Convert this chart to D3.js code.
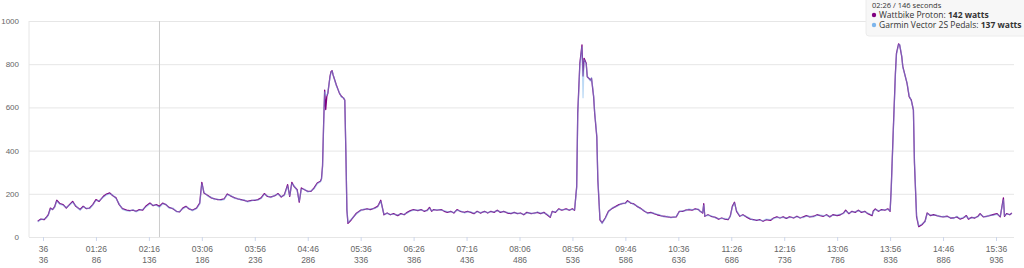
<!DOCTYPE html>
<html>
<head>
<meta charset="utf-8">
<script src="https://cdn.jsdelivr.net/npm/d3@7"></script>
<style>
  body { margin: 0; background: #fff; }
  svg { display: block; font-family: "Open Sans", sans-serif; }
</style>
</head>
<body>
<svg id="power-chart" width="1024" height="268"></svg>
<script>
// seconds into the ride, power in watts for each device
const secs = [
  31,34,37,39,41,43,45,47,49,52, 55,58,61,64,67,71,74,77,80,83,
  86,89,93,96,99,102,105,108,111,115, 118,121,124,127,130,133,137,140,143,146,
  149,152,155,159,162,165,168,171,174,177, 181,184,186,188,192,195,198,201,204,207,
  210,214,217,220,223,226,229,233,236,239, 242,245,248,251,255,258,261,264,267,269,
  271,273,276,278,280,283,286,289,292,295, 298,299,300,301,302,303,304,305,307,308,
  309,310,313,316,318,320,321,322,323,324, 327,332,336,339,342,345,349,352,353,355,
  358,361,364,367,371,374,377,380,383,386, 390,393,396,399,401,403,405,408,412,415,
  418,421,424,427,430,434,437,440,443,446, 449,453,456,459,462,465,468,471,475,478,
  481,484,487,490,493,497,500,503,506,509, 512,515,517,520,523,526,530,533,536,538,
  540,541,543,545,546,547,549,550,553,554, 556,557,559,560,562,564,567,570,574,577,
  580,583,586,588,591,594,597,600,604,607, 610,613,616,619,622,626,629,634,637,640,
  643,646,649,652,655,656,659,660,661,664, 667,671,674,677,680,683,685,687,689,691,
  694,697,701,704,707,710,713,716,719,723, 726,729,732,735,738,741,745,748,751,754,
  757,760,764,767,770,773,776,779,782,786, 789,792,794,797,800,803,806,809,812,815,
  819,820,822,825,828,831,834,836,837,839, 841,842,844,845,847,848,852,854,856,858,
  859,861,863,866,869,871,874,877,880,883, 886,890,893,896,899,902,905,908,910,913,
  916,919,921,924,927,930,933,937,940,943, 944,946,949,951
];
const wattbike = [
  73,83,80,90,103,134,127,140,170,154, 150,134,150,165,142,127,142,131,134,150,
  173,165,188,199,204,191,181,150,131,124, 122,124,119,127,124,142,157,145,150,142,
  157,150,137,130,119,116,134,142,130,124, 134,157,253,204,191,181,176,173,173,176,
  199,188,181,176,173,170,165,170,170,173, 181,201,188,185,191,201,185,196,242,188,
  253,235,219,161,227,219,211,211,227,250, 258,270,330,520,680,590,650,665,742,765,
  770,750,704,665,650,642,634,400,125,63, 79,110,124,127,130,127,134,142,150,170,
  103,111,103,108,99,108,103,114,122,127, 122,127,119,124,137,119,127,124,127,119,
  114,119,111,127,119,114,119,114,108,119, 111,119,111,119,114,124,114,119,111,108,
  114,108,111,103,114,108,111,114,108,114, 103,91,119,114,130,124,130,124,130,124,
  233,573,804,889,745,827,804,742,727,735, 650,573,464,264,79,65,88,119,134,142,
  150,154,157,168,157,153,142,134,119,111, 114,108,103,99,96,93,91,93,119,119,
  124,127,124,130,127,122,111,154,96,103, 96,91,83,88,83,80,96,142,161,119,
  96,103,91,83,80,77,80,73,80,77, 88,93,88,93,86,93,88,96,88,93,
  99,93,96,103,99,96,103,93,103,99, 103,111,124,108,119,114,124,114,119,108,
  99,119,130,119,127,124,130,119,219,495, 758,850,894,889,835,789,711,650,634,588,
  341,94,48,57,73,111,99,103,99,96, 93,96,88,88,93,83,88,99,83,91,
  88,96,108,93,96,99,103,108,93,181, 96,108,103,111
];
const garmin = [
  70,80,84,88,100,130,129,137,166,151, 146,137,147,160,145,124,139,134,131,147,
  168,168,184,195,200,194,177,153,128,121, 119,127,116,124,127,138,153,148,147,137,
  153,152,134,133,116,119,130,139,133,121, 131,152,246,208,187,184,173,176,170,173,
  195,191,178,179,170,173,162,167,173,170, 178,197,191,182,194,197,188,192,236,192,
  247,238,215,166,222,222,208,214,223,246, 255,266,322,512,672,662,655,668,738,762,
  768,752,700,668,646,645,631,410,130,67, 82,107,121,130,127,130,131,139,147,165,
  106,108,106,105,102,105,106,111,119,124, 125,124,122,121,133,122,124,127,124,122,
  117,116,114,123,122,111,116,117,111,116, 114,116,114,116,117,121,117,116,114,111,
  111,111,108,106,111,111,108,117,111,111, 106,94,116,117,127,127,127,127,127,127,
  225,560,795,880,645,820,800,745,722,738, 655,578,470,272,84,62,85,116,137,139,
  147,157,154,164,160,150,145,131,122,108, 111,111,106,102,93,96,88,96,116,122,
  121,130,127,127,130,119,114,148,99,100, 99,88,86,85,86,83,93,138,157,122,
  99,100,94,86,77,80,77,76,83,80, 85,90,91,90,89,90,91,93,91,90,
  96,96,93,100,102,99,100,96,100,102, 106,108,120,111,116,117,121,117,116,111,
  102,116,127,122,124,127,127,122,210,485, 750,845,890,892,838,785,714,655,630,592,
  350,100,52,60,70,108,102,100,102,93, 96,93,91,85,96,86,91,96,86,88,
  91,93,105,96,93,102,100,105,96,172, 99,105,106,108
];

const tickSecs = [36,86,136,186,236,286,336,386,436,486,536,586,636,686,736,786,836,886,936];
const timeLabels = ["36","01:26","02:16","03:06","03:56","04:46","05:36","06:26","07:16","08:06",
  "08:56","09:46","10:36","11:26","12:16","13:06","13:56","14:46","15:36"];
const yTicks = [0,200,400,600,800,1000];

const hoverSec = 146;
const hoverTime = "02:26";
const seriesNames = ["Wattbike Proton", "Garmin Vector 2S Pedals"];
const hoverWatts = [142, 137];
const seriesColors = ["#800080", "#7cb5ec"];

let svg = d3.select("#power-chart");
const plotLeft = 29, plotRight = 1014, plotTop = 21, plotBottom = 237;

let x = d3.scaleLinear().domain([36, 936]).range([43, 996]);
let y = d3.scaleLinear().domain([0, 1000]).range([plotBottom, plotTop]);

// y grid + labels
let yAxis = svg.append("g")
  .attr("transform", `translate(${plotLeft},0)`)
  .call(d3.axisLeft(y).tickValues(yTicks).tickFormat(d3.format("d"))
    .tickSize(-(plotRight - plotLeft)).tickPadding(10));
yAxis.select(".domain").remove();
yAxis.selectAll("line").attr("stroke", "#e6e6e6");
yAxis.selectAll("text").attr("fill", "#666").style("font-size", "8px");

// left border
svg.append("line")
  .attr("x1", plotLeft).attr("x2", plotLeft).attr("y1", plotTop).attr("y2", plotBottom)
  .attr("stroke", "#e6e6e6");

// x axis: time row
let xAxis = svg.append("g")
  .attr("transform", `translate(0,${plotBottom})`)
  .call(d3.axisBottom(x).tickValues(tickSecs).tickFormat((d, i) => timeLabels[i]).tickSize(4).tickPadding(5));
xAxis.select(".domain").remove();
xAxis.selectAll("line").attr("stroke", "#ccd6eb");
xAxis.selectAll("text").attr("fill", "#666").style("font-size", "8.5px");

// x axis: seconds row
let xAxis2 = svg.append("g")
  .attr("transform", `translate(0,${plotBottom + 11})`)
  .call(d3.axisBottom(x).tickValues(tickSecs).tickFormat(d => d).tickSize(4).tickPadding(5));
xAxis2.select(".domain").remove();
xAxis2.selectAll("line").remove();
xAxis2.selectAll("text").attr("fill", "#666").style("font-size", "8.5px");

// crosshair
svg.append("line")
  .attr("x1", x(hoverSec)).attr("x2", x(hoverSec))
  .attr("y1", plotTop).attr("y2", plotBottom)
  .attr("stroke", "#cccccc");

let line = d3.line()
  .x((d, i) => x(secs[i]))
  .y(d => y(d));

svg.append("path").datum(wattbike)
  .attr("d", line)
  .attr("fill", "none")
  .attr("stroke", seriesColors[0])
  .attr("stroke-width", 1.3)
  .attr("stroke-linejoin", "round");

svg.append("path").datum(garmin)
  .attr("d", line)
  .attr("fill", "none")
  .attr("stroke", seriesColors[1])
  .attr("stroke-width", 1.3)
  .attr("stroke-opacity", 0.5)
  .attr("stroke-linejoin", "round");

// tooltip
let tip = svg.append("g").attr("transform", "translate(866,0)");
tip.append("rect")
  .attr("x", 0).attr("y", -4).attr("width", 170).attr("height", 40)
  .attr("rx", 3)
  .attr("fill", "#f7f7f7").attr("fill-opacity", 0.95)
  .attr("stroke", "#ececec");
tip.append("text")
  .attr("x", 6).attr("y", 8)
  .attr("fill", "#333").style("font-size", "7.5px")
  .text(`${hoverTime} / ${hoverSec} seconds`);

seriesNames.forEach((name, i) => {
  let row = tip.append("g").attr("transform", `translate(0,${18 + i * 10})`);
  row.append("circle").attr("cx", 8).attr("cy", -3).attr("r", 2.2).attr("fill", seriesColors[i]);
  let t = row.append("text").attr("x", 13).attr("y", 0).attr("fill", "#333").style("font-size", "8.5px");
  t.append("tspan").text(`${name}: `);
  t.append("tspan").attr("font-weight", "bold").text(`${hoverWatts[i]} watts`);
});
</script>
</body>
</html>
